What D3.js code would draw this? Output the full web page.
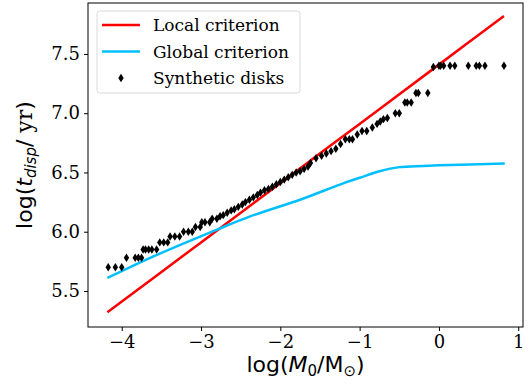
<!DOCTYPE html>
<html>
<head>
<meta charset="utf-8">
<script src="https://cdn.jsdelivr.net/npm/d3@7"></script>
<style>
  body { margin: 0; background: #fff; }
  .tick text { font-family: "DejaVu Serif", serif; font-size: 18px; fill: #000; }
  .tick line { stroke: #000; }
  .domain { stroke: none; }
</style>
</head>
<body>
<div id="chart-area"></div>
<script>
// Local criterion (red, straight)
var localX = [-4.18, -3, -2, -1, 0, 0.82];
var localY = [5.32, 5.91, 6.41, 6.91, 7.41, 7.82];

// Global criterion (blue)
var globalX = [-4.18, -3.64, -2.79, -2.38, -1.75, -1.24, -1.0, -0.75, -0.5, -0.2, 0, 0.83];
var globalY = [5.61, 5.78, 6.02, 6.13, 6.27, 6.40, 6.455, 6.51, 6.545, 6.555, 6.56, 6.575];

// Synthetic disks
var diskX = [-4.17, -4.08, -4.00,
  -3.94, -3.83, -3.79, -3.75,
  -3.73, -3.70, -3.66, -3.62, -3.56,
  -3.52, -3.47, -3.42,
  -3.39, -3.33, -3.27,
  -3.22, -3.16, -3.11,
  -3.07, -3.01,
  -2.99, -2.95, -2.89,
  -2.86, -2.80, -2.76, -2.72, -2.67, -2.62, -2.58, -2.53, -2.48, -2.44, -2.39, -2.34,
  -2.29, -2.25, -2.20, -2.15, -2.10, -2.05, -2.00, -1.95, -1.90, -1.85, -1.80, -1.75,
  -1.70, -1.65, -1.62, -1.55, -1.48, -1.42, -1.36, -1.30, -1.24, -1.18, -1.13, -1.09,
  -1.03, -0.97, -0.91, -0.84, -0.78, -0.74, -0.70, -0.65, -0.55, -0.50,
  -0.43, -0.40, -0.35, -0.29, -0.26, -0.14,
  -0.07, 0.00, 0.02, 0.06, 0.14, 0.20, 0.37, 0.47, 0.51, 0.58, 0.82];
var diskY = [5.70, 5.70, 5.70,
  5.78, 5.78, 5.78, 5.78,
  5.85, 5.85, 5.85, 5.85, 5.85,
  5.91, 5.91, 5.91,
  5.96, 5.96, 5.96,
  6.00, 6.00, 6.00,
  6.04, 6.04,
  6.08, 6.08, 6.08,
  6.11, 6.11, 6.13, 6.14, 6.16, 6.18, 6.19, 6.21, 6.23, 6.25, 6.27, 6.29,
  6.31, 6.33, 6.35, 6.36, 6.38, 6.40, 6.42, 6.44, 6.46, 6.48, 6.50, 6.51,
  6.53, 6.55, 6.58, 6.62, 6.64, 6.66, 6.68, 6.70, 6.74, 6.78, 6.78, 6.78,
  6.82, 6.85, 6.85, 6.88, 6.91, 6.93, 6.95, 6.96, 7.00, 7.00,
  7.09, 7.09, 7.09, 7.17, 7.17, 7.17,
  7.39, 7.40, 7.40, 7.40, 7.40, 7.40, 7.40, 7.40, 7.40, 7.40, 7.40];

var xTicks = [-4, -3, -2, -1, 0, 1];
var yTicks = [5.5, 6.0, 6.5, 7.0, 7.5];

var margin = { left: 88, right: 8, top: 3, bottom: 60 };
var W = 531, H = 387;
var chartW = W - margin.left - margin.right;
var chartH = H - margin.top - margin.bottom;

var svg = d3.select("#chart-area").append("svg")
    .attr("width", W)
    .attr("height", H);
var g = svg.append("g")
    .attr("transform", "translate(" + margin.left + "," + margin.top + ")");

var x = d3.scaleLinear().domain([-4.425, 1.06]).range([0, chartW]);
var y = d3.scaleLinear().domain([5.196, 7.93]).range([chartH, 0]);

// axes
g.append("g")
    .attr("transform", "translate(0," + chartH + ")")
    .call(d3.axisBottom(x).tickValues(xTicks).tickSize(4).tickPadding(4).tickFormat(d3.format("d")));
g.append("g")
    .call(d3.axisLeft(y).tickValues(yTicks).tickSize(4).tickPadding(4).tickFormat(d3.format(".1f")));

// lines
var line = d3.line()
    .curve(d3.curveCatmullRom)
    .x(function(d) { return x(d[0]); })
    .y(function(d) { return y(d[1]); });

var localData = localX.map(function(v, i) { return [v, localY[i]]; });
var globalData = globalX.map(function(v, i) { return [v, globalY[i]]; });

g.append("path")
    .datum(localData)
    .attr("d", line)
    .attr("fill", "none")
    .attr("stroke", "#ff0000")
    .attr("stroke-width", 2.5);

g.append("path")
    .datum(globalData)
    .attr("d", line)
    .attr("fill", "none")
    .attr("stroke", "#00bfff")
    .attr("stroke-width", 2.5);

// thin diamonds
var diamond = "M0,-4.2L2.7,0L0,4.2L-2.7,0Z";
g.selectAll(".disk")
    .data(diskX.map(function(v, i) { return [v, diskY[i]]; }))
    .enter().append("path")
    .attr("class", "disk")
    .attr("d", diamond)
    .attr("transform", function(d) { return "translate(" + x(d[0]) + "," + y(d[1]) + ")"; })
    .attr("fill", "#000");

// frame
g.append("rect")
    .attr("width", chartW)
    .attr("height", chartH)
    .attr("fill", "none")
    .attr("stroke", "#000")
    .attr("stroke-width", 1);

// legend
var legend = g.append("g").attr("transform", "translate(9,8)");
legend.append("rect")
    .attr("width", 203)
    .attr("height", 82)
    .attr("rx", 3)
    .attr("fill", "#fff")
    .attr("fill-opacity", 0.8)
    .attr("stroke", "#d9d9d9");
var items = ["Local criterion", "Global criterion", "Synthetic disks"];
var colors = ["#ff0000", "#00bfff", "#000"];
items.forEach(function(name, i) {
    var cy = 14 + i * 26.5;
    if (i < 2) {
        legend.append("line")
            .attr("x1", 5).attr("x2", 43)
            .attr("y1", cy).attr("y2", cy)
            .attr("stroke", colors[i])
            .attr("stroke-width", 2.5);
    } else {
        legend.append("path")
            .attr("d", diamond)
            .attr("transform", "translate(24," + cy + ")")
            .attr("fill", "#000");
    }
    legend.append("text")
        .attr("x", 56)
        .attr("y", cy + 6)
        .attr("font-family", "DejaVu Serif, serif")
        .attr("font-size", "17px")
        .text(name);
});

// axis labels
var xl = svg.append("text")
    .attr("x", margin.left + chartW / 2)
    .attr("y", 372)
    .attr("text-anchor", "middle")
    .attr("font-family", "DejaVu Sans, sans-serif")
    .attr("font-size", "22px");
xl.append("tspan").text("log(");
xl.append("tspan").attr("font-style", "italic").text("M");
xl.append("tspan").attr("font-size", "15px").attr("dy", 4).text("0");
xl.append("tspan").attr("dy", -4).text("/M");
xl.append("tspan").attr("font-size", "15px").attr("dy", 4).text("\u2299");
xl.append("tspan").attr("dy", -4).text(")");

var yl = svg.append("text")
    .attr("transform", "translate(32," + (margin.top + chartH / 2) + ") rotate(-90)")
    .attr("text-anchor", "middle")
    .attr("font-family", "DejaVu Sans, sans-serif")
    .attr("font-size", "22px");
yl.append("tspan").text("log(");
yl.append("tspan").attr("font-style", "italic").text("t");
yl.append("tspan").attr("font-style", "italic").attr("font-size", "15px").attr("dy", 4).text("disp");
yl.append("tspan").attr("dy", -4).text("/ ");
yl.append("tspan").attr("font-family", "DejaVu Serif, serif").text("yr");
yl.append("tspan").text(")");
</script>
</body>
</html>
